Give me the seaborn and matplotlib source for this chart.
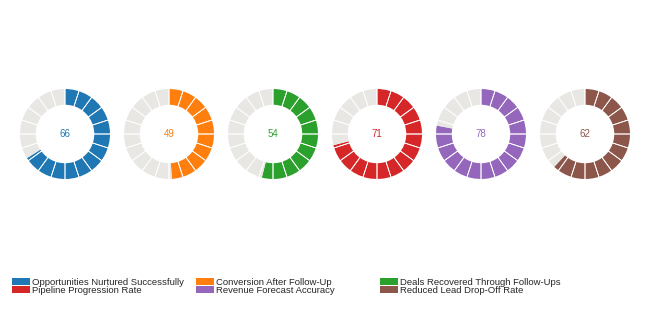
#!/usr/bin/env python3
"""Segmented donut gauges for six follow-up metrics, legend underneath."""

import matplotlib
matplotlib.use("Agg")
import matplotlib.pyplot as plt
from matplotlib.patches import Patch
import seaborn as sns

METRICS = [
    "Opportunities Nurtured Successfully",
    "Conversion After Follow-Up",
    "Deals Recovered Through Follow-Ups",
    "Pipeline Progression Rate",
    "Revenue Forecast Accuracy",
    "Reduced Lead Drop-Off Rate",
]
VALUES = [66, 49, 54, 71, 78, 62]
N_SEGMENTS = 20

TRACK = "#e8e7e4"
W, H = 650, 311


def main() -> None:
    sns.set_theme(style="white")
    plt.rcParams["font.family"] = ["Liberation Sans", "DejaVu Sans"]
    colors = sns.color_palette("tab10", len(METRICS))

    fig = plt.figure(figsize=(W / 100, H / 100), dpi=100)

    radius_px = 45
    centers_x = [65, 169, 273, 377, 481, 585]
    center_y = H - 134
    ring = 0.35

    for cx, val, col in zip(centers_x, VALUES, colors):
        ax = fig.add_axes([
            (cx - radius_px) / W,
            (center_y - radius_px) / H,
            2 * radius_px / W,
            2 * radius_px / H,
        ])
        ax.pie(
            [val, 100 - val],
            colors=[col, TRACK],
            startangle=90,
            counterclock=False,
            radius=1,
            wedgeprops=dict(width=ring, edgecolor="none", linewidth=0),
        )
        # white gaps between the 20 segments (oversized so arc strokes miss the ring)
        ax.pie(
            [1] * N_SEGMENTS,
            startangle=90,
            counterclock=False,
            radius=1.2,
            wedgeprops=dict(width=ring + 0.4, facecolor="none",
                            edgecolor="white", linewidth=0.6),
        )
        ax.set_xlim(-1, 1)
        ax.set_ylim(-1, 1)
        ax.set_aspect("equal")
        ax.axis("off")
        ax.text(0, 0, f"{val}", ha="center", va="center",
                fontsize=7, color=col)

    # three fixed-position legend columns, two rows each (row-major reading)
    col_x = [12, 196, 380]
    for j, x in enumerate(col_x):
        idx = [j, j + 3]
        fig.legend(
            [Patch(facecolor=colors[i], edgecolor="none") for i in idx],
            [METRICS[i] for i in idx],
            loc="upper left",
            bbox_to_anchor=(x / W, 1 - 278 / H),
            frameon=False,
            fontsize=6.8,
            handlelength=1.9,
            handleheight=0.75,
            handletextpad=0.25,
            labelspacing=-0.1,
            borderaxespad=0,
            borderpad=0,
        )

    fig.savefig("out.png", dpi=100)


if __name__ == "__main__":
    main()
